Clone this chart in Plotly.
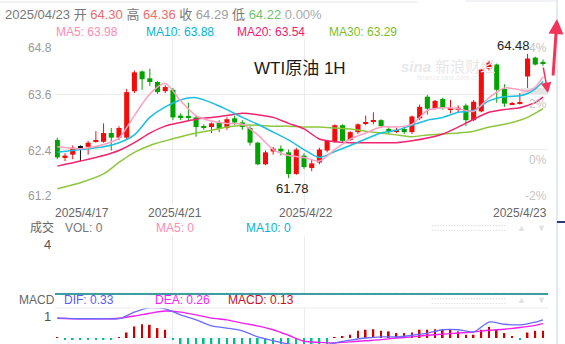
import plotly.graph_objects as go

W, H = 565, 344
FONT = "Liberation Sans, Arial, Noto Sans CJK SC, sans-serif"

# ---------------- data ----------------
bar_index = list(range(64))
opens = [62.61, 62.23, 62.29, 62.46, 62.46, 62.57, 62.57, 62.76, 62.66, 62.66,
         63.67, 64.10, 63.95, 63.87, 63.67, 63.70, 63.14, 63.12, 63.10, 62.90,
         62.89, 62.99, 62.87, 63.08, 62.99, 62.87, 62.55, 62.08, 62.36, 62.42,
         62.34, 61.87, 62.27, 62.00, 62.12, 62.38, 62.57, 62.93, 62.61, 62.78,
         62.97, 63.01, 63.04, 62.85, 62.78, 62.85, 62.78, 63.08, 63.55, 63.29,
         63.50, 63.29, 63.27, 63.36, 63.04, 63.23, 64.16, 64.25, 63.72, 63.39,
         63.41, 63.99, 64.40, 64.30]
highs = [62.66, 62.32, 62.49, 62.49, 62.59, 62.80, 62.97, 62.87, 62.91, 63.72,
         64.12, 64.12, 64.16, 63.89, 63.80, 63.74, 63.19, 63.42, 63.14, 62.95,
         62.99, 63.04, 63.10, 63.14, 63.04, 62.91, 62.57, 62.38, 62.46, 62.49,
         62.40, 62.44, 62.32, 62.19, 62.44, 62.61, 62.95, 62.95, 62.80, 62.97,
         63.14, 63.21, 63.06, 62.89, 62.87, 62.89, 63.14, 63.38, 63.59, 63.48,
         63.53, 63.48, 63.36, 63.40, 63.48, 64.16, 64.33, 64.27, 63.82, 63.44,
         63.63, 64.48, 64.42, 64.36]
lows = [62.19, 62.15, 62.19, 62.15, 62.29, 62.55, 62.55, 62.38, 62.61, 62.63,
        63.63, 63.70, 63.78, 63.61, 63.63, 63.04, 63.04, 63.04, 62.68, 62.83,
        62.76, 62.78, 62.83, 62.93, 62.83, 62.49, 62.06, 62.06, 62.29, 62.27,
        61.78, 61.85, 61.98, 61.93, 62.08, 62.34, 62.55, 62.57, 62.59, 62.74,
        62.93, 62.95, 62.87, 62.74, 62.76, 62.74, 62.74, 63.04, 63.16, 63.27,
        63.27, 63.19, 63.21, 62.91, 63.02, 63.21, 64.12, 63.42, 63.33, 63.38,
        63.38, 63.74, 64.23, 64.22]
closes = [62.23, 62.27, 62.44, 62.46, 62.55, 62.61, 62.76, 62.66, 62.87, 63.65,
          64.08, 63.93, 63.87, 63.65, 63.76, 63.10, 63.10, 63.10, 62.89, 62.88,
          62.97, 62.85, 63.06, 62.99, 62.89, 62.55, 62.08, 62.34, 62.42, 62.36,
          61.87, 62.40, 62.02, 62.10, 62.40, 62.59, 62.93, 62.59, 62.78, 62.95,
          62.99, 63.02, 62.91, 62.78, 62.83, 62.78, 63.12, 63.33, 63.29, 63.46,
          63.31, 63.30, 63.31, 63.04, 63.44, 64.14, 64.29, 63.70, 63.40, 63.40,
          63.42, 64.38, 64.25, 64.29]
volume = [0] * 64

ma_index = [0, 3, 6, 8, 10, 12, 14, 16, 18, 20, 22, 24, 26, 28, 30, 32, 34, 36,
            38, 40, 42, 44, 46, 48, 50, 52, 54, 56, 58, 60, 61, 62, 63]
ma5 = [62.46, 62.42, 62.51, 62.65, 63.14, 63.61, 63.84, 63.46, 63.14, 63.02, 62.97,
       62.95, 62.72, 62.40, 62.27, 62.23, 62.15, 62.40, 62.63, 62.76, 62.89, 62.89,
       62.95, 63.25, 63.31, 63.29, 63.23, 63.53, 63.74, 63.70, 63.67, 63.76, 63.98]
ma10 = [62.34, 62.40, 62.46, 62.55, 62.72, 63.10, 63.33, 63.48, 63.53, 63.42, 63.27,
        63.10, 62.95, 62.78, 62.61, 62.40, 62.23, 62.36, 62.49, 62.63, 62.76, 62.82,
        62.93, 63.04, 63.10, 63.21, 63.25, 63.46, 63.55, 63.57, 63.62, 63.72, 63.88]
ma20 = [62.04, 62.15, 62.27, 62.38, 62.55, 62.76, 62.91, 62.99, 63.06, 63.10, 63.14,
        63.19, 63.16, 63.10, 62.97, 62.85, 62.63, 62.57, 62.55, 62.55, 62.55, 62.55,
        62.59, 62.65, 62.74, 62.89, 63.06, 63.21, 63.27, 63.31, 63.36, 63.42, 63.54]
ma30 = [61.55, 61.68, 61.87, 62.12, 62.34, 62.49, 62.59, 62.68, 62.76, 62.82, 62.89,
        62.93, 62.93, 62.91, 62.91, 62.89, 62.89, 62.87, 62.85, 62.80, 62.76, 62.72,
        62.68, 62.72, 62.74, 62.76, 62.80, 62.89, 62.95, 63.04, 63.10, 63.19, 63.29]

macd_index = [0, 3, 6, 8, 10, 12, 14, 16, 18, 20, 22, 24, 26, 28, 30, 32, 34, 36,
              38, 40, 42, 44, 46, 48, 50, 52, 54, 56, 58, 60, 62, 63]
dif = [0.36, 0.35, 0.35, 0.35, 0.47, 0.55, 0.53, 0.42, 0.33, 0.22, 0.18, 0.13, 0.02,
       -0.05, -0.11, -0.13, -0.15, -0.09, -0.04, 0.0, 0.02, 0.02, 0.05, 0.09, 0.15,
       0.15, 0.11, 0.29, 0.25, 0.24, 0.29, 0.33]
dea = [0.36, 0.35, 0.35, 0.36, 0.40, 0.45, 0.49, 0.47, 0.42, 0.36, 0.33, 0.27, 0.22,
       0.15, 0.05, -0.06, -0.08, -0.09, -0.07, -0.05, -0.03, 0.0, 0.02, 0.05, 0.07,
       0.09, 0.11, 0.14, 0.16, 0.19, 0.23, 0.26]
macd_hist = [0.01, -0.02, -0.02, -0.02, -0.02, -0.02, -0.02, -0.02, 0.005, 0.10,
             0.21, 0.25, 0.24, 0.18, 0.15, -0.02, -0.12, -0.16, -0.20, -0.24,
             -0.28, -0.30, -0.30, -0.32, -0.32, -0.34, -0.40, -0.42, -0.42, -0.40,
             -0.40, -0.36, -0.24, -0.18, -0.13, -0.12, 0.01, 0.02, 0.06, 0.13,
             0.15, 0.16, 0.13, 0.12, 0.09, 0.09, 0.10, 0.15, 0.15, 0.16,
             0.15, 0.15, 0.12, 0.06, 0.06, 0.15, 0.20, 0.15, 0.09, 0.03,
             -0.02, 0.10, 0.13, 0.13]

date_labels = ["2025/4/17", "2025/4/21", "2025/4/22", "2025/4/23"]
date_index = [0, 15, 32, 63]
price_ticks = [64.8, 63.6, 62.4, 61.2]
price_tick_text = ["64.8", "63.6", "62.4", "61.2"]
pct_tick_text = ["4%", "2%", "0%", "-2%"]
high_label, low_label = 64.48, 61.78
high_idx, low_idx = 61, 30

# ---------------- style ----------------
RED, GREEN = "#f20d0d", "#00a300"
C_MA5, C_MA10, C_MA20, C_MA30 = "#ff9ec0", "#1cbfe0", "#f0246e", "#8dc63f"
C_DIF, C_DEA = "#6b6bff", "#f020f0"
MIN_BODY = 0.025


def px(x):
    return x / W


def py(y):
    return 1 - y / H


fig = go.Figure()

# candles: wicks then bodies
groups = {"up": ([], [], RED), "down": ([], [], GREEN), "flat": ([], [], "#111111")}
bodies = {"up": ([], [], []), "down": ([], [], []), "flat": ([], [], [])}
for i, o, h, l, c in zip(bar_index, opens, highs, lows, closes):
    k = "up" if c > o else ("down" if c < o else "flat")
    gx, gy, _ = groups[k]
    gx += [i, i, None]
    gy += [l, h, None]
    bx, bb, bh = bodies[k]
    lo = min(o, c)
    hgt = abs(c - o)
    if hgt < MIN_BODY:
        lo = (o + c) / 2 - MIN_BODY / 2
        hgt = MIN_BODY
    bx.append(i)
    bb.append(lo)
    bh.append(hgt)

for k, (gx, gy, col) in groups.items():
    fig.add_trace(go.Scatter(x=gx, y=gy, mode="lines", line=dict(color=col, width=1),
                             xaxis="x", yaxis="y", hoverinfo="skip"))
for k, (bx, bb, bh) in bodies.items():
    col = groups[k][2]
    fig.add_trace(go.Bar(x=bx, y=bh, base=bb, width=0.66, marker=dict(color=col, line=dict(width=0)),
                         xaxis="x", yaxis="y", hoverinfo="skip"))

for vals, col in [(ma30, C_MA30), (ma20, C_MA20), (ma10, C_MA10), (ma5, C_MA5)]:
    fig.add_trace(go.Scatter(x=ma_index, y=vals, mode="lines",
                             line=dict(color=col, width=1.5, shape="spline", smoothing=0.7),
                             xaxis="x", yaxis="y", hoverinfo="skip"))

# volume panel (all zero)
fig.add_trace(go.Bar(x=bar_index, y=volume, width=0.66, marker=dict(color=RED),
                     xaxis="x2", yaxis="y2", hoverinfo="skip"))

# MACD panel
fig.add_trace(go.Bar(x=bar_index, y=macd_hist, width=0.22,
                     marker=dict(color=["#cc0000" if v >= 0 else "#00c08a" for v in macd_hist],
                                 line=dict(width=0)),
                     xaxis="x3", yaxis="y3", hoverinfo="skip"))
fig.add_trace(go.Scatter(x=macd_index, y=dea, mode="lines",
                         line=dict(color=C_DEA, width=1.4, shape="spline", smoothing=0.7),
                         xaxis="x3", yaxis="y3", hoverinfo="skip"))
fig.add_trace(go.Scatter(x=macd_index, y=dif, mode="lines",
                         line=dict(color=C_DIF, width=1.3, shape="spline", smoothing=0.7),
                         xaxis="x3", yaxis="y3", hoverinfo="skip"))

GRID = "#ececec"
xdom = [px(55), px(548)]
xr = [-0.3, 63.65]
common_x = dict(domain=xdom, range=xr, tickvals=date_index[1:3], showticklabels=False, ticks="",
                showgrid=True, gridcolor=GRID, gridwidth=1, zeroline=False, fixedrange=True)

layout = dict(
    width=W, height=H, margin=dict(l=0, r=0, t=0, b=0),
    paper_bgcolor="white", plot_bgcolor="white", showlegend=False,
    barmode="overlay", hovermode=False,
    font=dict(family=FONT, size=12, color="#666"),
    xaxis=dict(anchor="y", showline=False, **common_x),
    yaxis=dict(domain=[py(205), py(39)], range=[61.195, 64.805], tickvals=price_ticks,
               showticklabels=False, ticks="", gridcolor=GRID, zeroline=False, fixedrange=True),
    xaxis2=dict(anchor="y2", showline=True, linecolor="#3c9e9e", linewidth=1.5, **common_x),
    yaxis2=dict(domain=[py(293), py(236)], range=[0, 4.02], tickvals=[4], showticklabels=False,
                ticks="", gridcolor=GRID, zeroline=False, fixedrange=True),
    xaxis3=dict(anchor="y3", showline=False, **common_x),
    yaxis3=dict(domain=[0, py(308)], range=[-0.109, 0.545], showticklabels=False, ticks="",
                showgrid=False, zeroline=False, fixedrange=True),
)
fig.update_layout(**layout)

shapes = [
    dict(type="line", xref="paper", yref="paper", x0=px(55), x1=px(548), y0=py(308), y1=py(308),
         line=dict(color=GRID, width=1)),
    dict(type="rect", xref="paper", yref="paper", x0=px(521), x1=px(548), y0=py(94), y1=py(88),
         fillcolor="#e4e4e4", line=dict(width=0), layer="below"),
    dict(type="line", xref="paper", yref="paper", x0=px(557), x1=px(557), y0=0, y1=1,
         line=dict(color="#d3dbe7", width=1.2)),
    dict(type="line", xref="paper", yref="paper", x0=px(557), x1=px(565), y0=py(222), y1=py(222),
         line=dict(color="#2b3a80", width=2)),
    dict(type="line", xref="paper", yref="paper", x0=0, x1=px(418), y0=py(2), y1=py(2),
         line=dict(color="#e3e7ee", width=1)),
    dict(type="line", xref="paper", yref="paper", x0=px(465), x1=px(557), y0=py(1), y1=py(1),
         line=dict(color="#e3e7ee", width=1)),
]
fig.update_layout(shapes=shapes)

ann = []


def txt(x, y, text, size=12, color="#666", xanchor="left", yanchor="middle", **kw):
    d = dict(x=x, y=y, text=text, showarrow=False, xanchor=xanchor, yanchor=yanchor, borderpad=0,
             font=dict(family=FONT, size=size, color=color), xref="paper", yref="paper")
    d.update(kw)
    ann.append(d)


def sp(t, c):
    return f'<span style="color:{c}">{t}</span>'


# header
hdr = (sp("2025/04/23 开 ", "#777") + sp("64.30", "#f06a6a") + sp(" 高 ", "#777") +
       sp("64.36", "#f06a6a") + sp(" 收 ", "#777") + sp("64.29", "#a0a0a0") + sp(" 低 ", "#777") +
       sp("64.22", "#6cc46c") + sp(" 0.00%", "#aaaaaa"))
txt(px(4), py(15), hdr, size=13)
txt(px(55), py(32), "MA5: 63.98", color="#ff8cb0")
txt(px(145), py(32), "MA10: 63.88", color="#00b4d8")
txt(px(236), py(32), "MA20: 63.54", color="#f0186e")
txt(px(328), py(32), "MA30: 63.29", color="#7cbd1e")

# title & watermark
txt(px(300), py(68), "WTI原油 1H", size=17, color="#1a1a1a", xanchor="center")
txt(px(448), py(66), "<b><i>sina</i></b> 新浪财经", size=15, color="#e8e8e8", xanchor="center")
txt(px(448), py(78), "finance.sina.com.cn", size=7, color="#ececec", xanchor="center")

# price labels (left) and percent labels (right)
anchors = ["top", "middle", "middle", "bottom"]
shifts = [-1, -1, -1, 1]
for v, t, a, s in zip(price_ticks, price_tick_text, anchors, shifts):
    ann.append(dict(x=px(53), xref="paper", y=v, yref="y", text=t, showarrow=False,
                    xanchor="right", yanchor=a, yshift=s, borderpad=0,
                    font=dict(family=FONT, size=12, color="#9a9a9a")))
p_anchors = ["top", "top", "top", "bottom"]
p_shifts = [-1, -2, -2, 1]
for v, t, a, s in zip(price_ticks, pct_tick_text, p_anchors, p_shifts):
    ann.append(dict(x=px(548), xref="paper", y=v, yref="y", text=t, showarrow=False,
                    xanchor="right", yanchor=a, yshift=s, borderpad=0,
                    font=dict(family=FONT, size=12, color="#c6c6c6")))

# date labels
DATE_Y = 213
for i, (d, xi) in enumerate(zip(date_labels, date_index)):
    if i == 0:
        txt(px(54), py(DATE_Y), d, xanchor="left")
    elif i == len(date_labels) - 1:
        txt(px(548), py(DATE_Y), d, xanchor="right")
    else:
        ann.append(dict(x=xi, xref="x", y=py(DATE_Y), yref="paper", text=d, showarrow=False,
                        xanchor="center", yanchor="middle", xshift=2, borderpad=0,
                        font=dict(family=FONT, size=12, color="#666")))

# high / low labels
ann.append(dict(x=high_idx, xref="x", y=high_label, yref="y", text=f"{high_label:.2f}",
                showarrow=False, xanchor="right", yanchor="bottom", xshift=3, borderpad=0,
                font=dict(family=FONT, size=13, color="#222")))
ann.append(dict(x=low_idx, xref="x", y=low_label, yref="y", text=f"{low_label:.2f}",
                showarrow=False, xanchor="center", yanchor="top", xshift=4, yshift=-2, borderpad=0,
                font=dict(family=FONT, size=13, color="#222")))

# volume header
VOL_Y = 228
txt(px(29), py(VOL_Y), "成交", color="#666")
txt(px(64), py(VOL_Y), "VOL: 0", color="#777")
txt(px(155), py(VOL_Y), "MA5: 0", color="#ff8cb0")
txt(px(245), py(VOL_Y), "MA10: 0", color="#00b4d8")
txt(px(52), py(244), "4", size=13, color="#555", xanchor="right")

# MACD header
txt(px(18), py(300), "MACD", color="#666")
txt(px(63), py(300), "DIF: 0.33", color="#5b5bff")
txt(px(154), py(300), "DEA: 0.26", color="#ff1aff")
txt(px(227), py(300), "MACD: 0.13", color="#cc1122")
txt(px(52), py(316), "1", size=13, color="#555", xanchor="right")

# drag handles and arrows on panel headers
for yy in (VOL_Y, 300):
    txt(px(430), py(yy), ":" * 27, size=10, color="#d8d8d8")
    txt(px(521), py(yy), "▲", size=9, color="#e0e0e0", xanchor="center")
    txt(px(541), py(yy), "▼", size=9, color="#e0e0e0", xanchor="center")

# red hand-drawn arrows
ann.append(dict(x=px(557), y=py(19), xref="paper", yref="paper", ax=-4, ay=58, showarrow=True,
                arrowhead=2, arrowsize=1, arrowwidth=3, arrowcolor="#f0345a", text=""))
ann.append(dict(x=px(548), y=py(93), xref="paper", yref="paper", ax=-5, ay=-27, showarrow=True,
                arrowhead=2, arrowsize=1.4, arrowwidth=1.5, arrowcolor="#f0345a", text=""))

fig.update_layout(annotations=ann)
fig.write_html("out.html", config={"displayModeBar": False})
